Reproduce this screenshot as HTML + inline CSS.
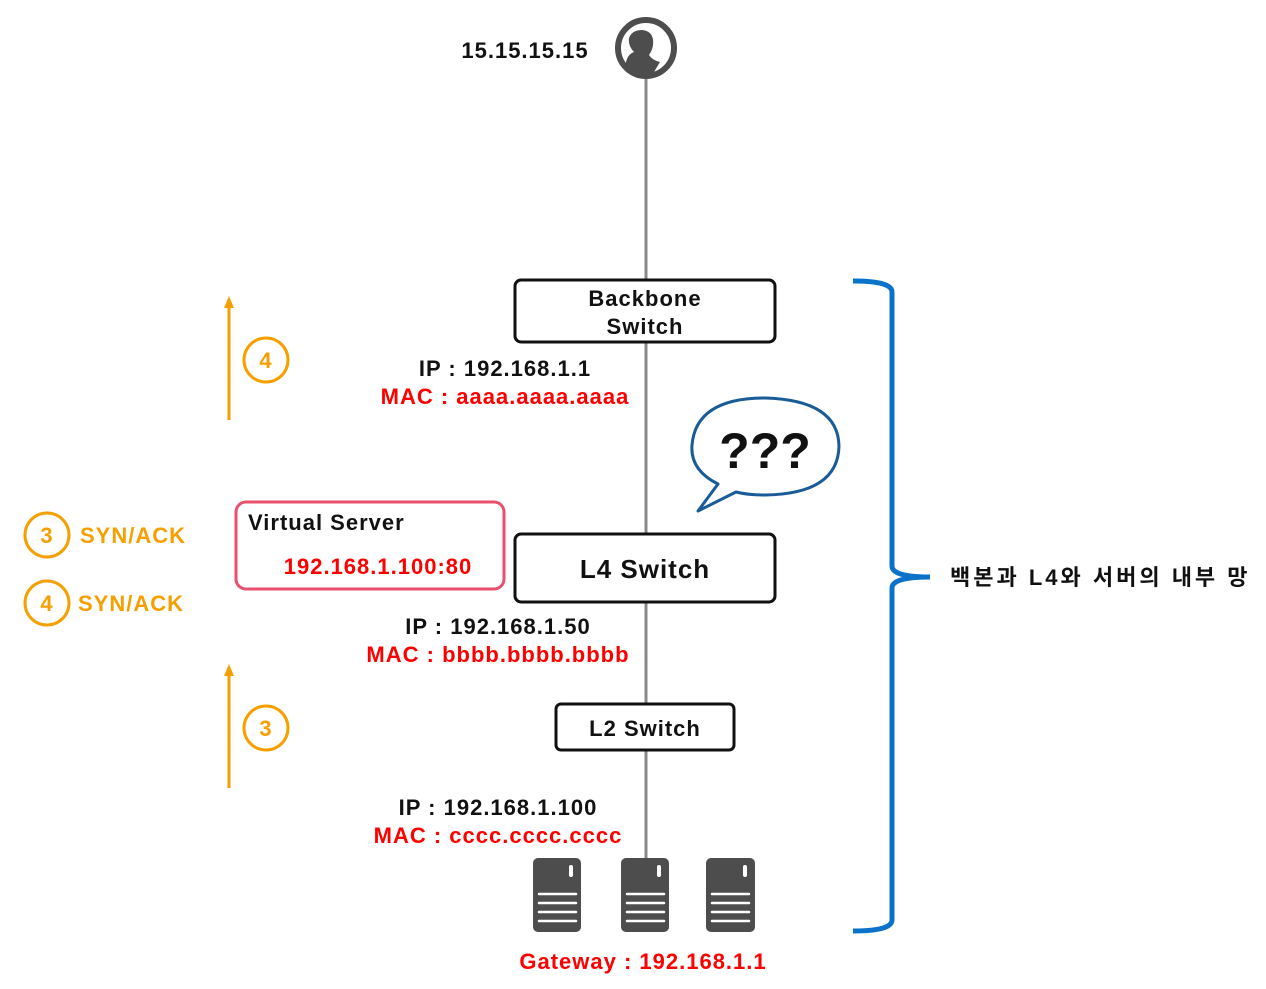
<!DOCTYPE html>
<html><head><meta charset="utf-8"><style>
html,body{margin:0;padding:0;background:#fff;}
svg{display:block;}
text{font-family:"Liberation Sans","Noto Sans CJK KR",sans-serif;font-weight:bold;letter-spacing:1px;}
</style></head><body>
<svg width="1266" height="989" viewBox="0 0 1266 989">
<line x1="646" y1="75" x2="646" y2="860" stroke="#888" stroke-width="3"/>
<circle cx="646" cy="48" r="28" fill="#fff" stroke="#4d4d4d" stroke-width="6"/>
<path d="M626 72 L626 62 Q628 54 634 52 Q628 46 629 38 Q632 30 642 30 Q652 31 653 40 Q654 48 649 55 Q652 60 660 62 L654 72 Q640 77 626 72Z" fill="#4d4d4d"/>
<text x="525" y="58" font-size="22" text-anchor="middle" fill="#111">15.15.15.15</text>
<rect x="515" y="280" width="260" height="62" rx="6" fill="#fff" stroke="#111" stroke-width="3"/>
<text x="645" y="306" font-size="22" text-anchor="middle" fill="#111">Backbone</text>
<text x="645" y="334" font-size="22" text-anchor="middle" fill="#111">Switch</text>
<rect x="515" y="534" width="260" height="68" rx="6" fill="#fff" stroke="#111" stroke-width="3"/>
<text x="645" y="578" font-size="26" text-anchor="middle" fill="#111">L4 Switch</text>
<rect x="556" y="704" width="178" height="46" rx="5" fill="#fff" stroke="#111" stroke-width="3"/>
<text x="645" y="736" font-size="22" text-anchor="middle" fill="#111">L2 Switch</text>
<text x="505" y="376" font-size="22" text-anchor="middle" fill="#111">IP : 192.168.1.1</text>
<text x="505" y="404" font-size="22" text-anchor="middle" fill="#f00">MAC : aaaa.aaaa.aaaa</text>
<text x="498" y="634" font-size="22" text-anchor="middle" fill="#111">IP : 192.168.1.50</text>
<text x="498" y="662" font-size="22" text-anchor="middle" fill="#f00">MAC : bbbb.bbbb.bbbb</text>
<text x="498" y="815" font-size="22" text-anchor="middle" fill="#111">IP : 192.168.1.100</text>
<text x="498" y="843" font-size="22" text-anchor="middle" fill="#f00">MAC : cccc.cccc.cccc</text>
<text x="643" y="969" font-size="22" text-anchor="middle" fill="#f00">Gateway : 192.168.1.1</text>
<g fill="#4d4d4d">
<rect x="533" y="858" width="48" height="74" rx="5"/>
<rect x="621" y="858" width="48" height="74" rx="5"/>
<rect x="706" y="858" width="49" height="74" rx="5"/>
</g>
<g stroke="#fff" stroke-width="4" stroke-linecap="round">
<line x1="571" y1="867" x2="571" y2="875"/><line x1="659" y1="867" x2="659" y2="875"/><line x1="745" y1="867" x2="745" y2="875"/>
</g>
<g stroke="#fff" stroke-width="2.5" stroke-linecap="round">
<path d="M539 894H576M539 903H576M539 912H576M539 921H576"/>
<path d="M627 894H664M627 903H664M627 912H664M627 921H664"/>
<path d="M712 894H749M712 903H749M712 912H749M712 921H749"/>
</g>
<rect x="236" y="502" width="268" height="87" rx="10" fill="#fff" stroke="#e8506e" stroke-width="3"/>
<text x="248" y="530" font-size="22" fill="#111">Virtual Server</text>
<text x="378" y="574" font-size="22" text-anchor="middle" fill="#f00">192.168.1.100:80</text>
<path d="M718 484 Q690 470 692 445 Q696 398 765 398 Q838 400 839 446 Q838 494 765 495 Q748 495 736 492 L698 511 Z" fill="#fff" stroke="#1a5c97" stroke-width="3" stroke-linejoin="round"/>
<text x="765" y="468" font-size="50" text-anchor="middle" fill="#111" style="letter-spacing:0">???</text>
<g stroke="#f5a000" stroke-width="3" fill="none">
<line x1="229" y1="420" x2="229" y2="305"/>
<line x1="229" y1="788" x2="229" y2="673"/>
<circle cx="266" cy="360" r="22"/><circle cx="266" cy="728" r="22"/>
<circle cx="47" cy="535" r="22"/><circle cx="47" cy="603" r="22"/>
</g>
<path d="M229 296 L224 308 L234 308Z M229 664 L224 676 L234 676Z" fill="#f5a000"/>
<g fill="#f5a000" font-size="22">
<text x="266" y="368" text-anchor="middle">4</text>
<text x="266" y="736" text-anchor="middle">3</text>
<text x="47" y="543" text-anchor="middle">3</text>
<text x="47" y="611" text-anchor="middle">4</text>
<text x="80" y="543">SYN/ACK</text>
<text x="78" y="611">SYN/ACK</text>
</g>
<path d="M853 281 Q892 281 892 292 L892 566 Q892 577 930 577 Q892 577 892 588 L892 920 Q892 931 853 931" fill="none" stroke="#0a72c8" stroke-width="5"/>
<text x="950" y="585" font-size="22" fill="#111" style="letter-spacing:3px">백본과 L4와 서버의 내부 망</text>
</svg>
</body></html>
